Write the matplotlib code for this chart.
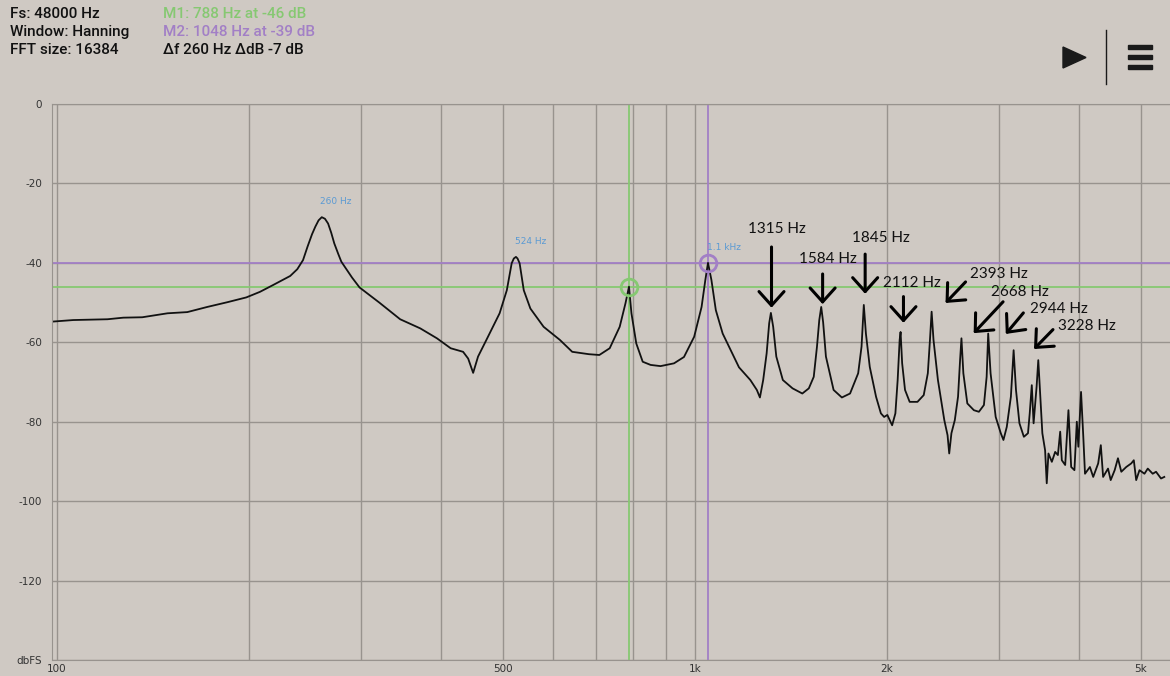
import matplotlib.pyplot as plt
import matplotlib.patches as mpatches

# spectrum (Hz, dBFS)
freq = [98.2, 106, 120, 127, 136, 149, 160, 172, 185, 198, 208, 218, 232, 238, 243, 247, 251, 254,
        257, 260, 263, 266, 269, 272, 276, 279, 290, 298, 320, 345, 371, 394, 414, 433, 441, 449, 457, 471,
        494, 507, 516, 520, 524, 527, 531, 539, 552, 579, 614, 642, 682, 708, 735, 762, 778, 788,
        795, 809, 828, 852, 883, 927, 961, 997, 1024, 1038, 1048, 1061, 1078, 1105, 1144,
        1172, 1221, 1250, 1264, 1279, 1295, 1307, 1315, 1326, 1341, 1373, 1422, 1473, 1508,
        1535, 1553, 1566, 1577, 1588, 1604, 1649, 1699, 1750, 1802, 1824, 1839, 1853, 1879,
        1922, 1956, 1979, 2002, 2037, 2061, 2078, 2093, 2100, 2112, 2134, 2170, 2232, 2283,
        2317, 2335, 2349, 2365, 2403, 2459, 2488, 2503, 2523, 2554, 2584, 2603, 2616, 2634,
        2672, 2736, 2786, 2837, 2865, 2881, 2906, 2960, 3015, 3044, 3081, 3127, 3158, 3185,
        3225, 3277, 3326, 3347, 3372, 3394, 3431, 3452, 3473, 3503, 3538, 3559, 3581, 3625,
        3669, 3705, 3736, 3758, 3804, 3849, 3887, 3933, 3967, 3989, 4028, 4061, 4086, 4159,
        4209, 4285, 4326, 4362, 4440, 4483, 4548, 4602, 4658, 4742, 4828, 4873, 4915, 4974,
        5064, 5125, 5217, 5280, 5376, 5440]
level = [-54.8, -54.4, -54.2, -53.8, -53.7, -52.7, -52.4, -51.1, -49.9, -48.7, -47.3, -45.6,
         -43.3, -41.6, -39.3, -35.9, -32.8, -30.9, -29.3, -28.5, -28.9, -30.1, -32.4, -35.1, -37.8,
         -39.7, -43.7, -46.2, -50.0, -54.2,
         -56.5, -59.0, -61.5, -62.4, -64.1, -67.7, -63.6, -59.4, -52.7, -46.9, -40.1, -38.9, -38.5,
         -38.9, -40.1, -46.9, -51.5, -56.1, -59.4, -62.4, -63.0, -63.2, -61.5, -56.1, -50.2, -46.0,
         -52.7, -60.3, -64.9, -65.7, -66.0, -65.3, -63.7, -58.6, -51.1, -44.3, -40.0, -44.3,
         -51.9, -57.8, -62.8, -66.3, -69.5, -72.0, -73.9, -69.5, -62.8, -55.2, -52.6, -56.1,
         -63.6, -69.5, -71.6, -72.9, -71.6, -68.7, -61.1, -54.4, -51.1, -55.0, -63.6, -72.0,
         -73.9, -72.9, -67.8, -61.1, -50.6, -57.8, -66.2, -73.7, -77.9, -78.8, -78.3, -80.9,
         -77.9, -69.5, -59.4, -57.4, -65.3, -72.0, -75.0, -75.0, -73.3, -67.8, -59.4, -52.3,
         -59.4, -69.5, -79.6, -83.4, -88.0, -82.9, -79.6, -73.7, -64.5, -59.0, -67.8, -75.4,
         -77.1, -77.5, -75.8, -68.7, -57.8, -67.8, -78.8, -82.9, -84.6, -81.3, -73.7, -62.0,
         -72.0, -80.4, -83.8, -82.9, -77.9, -70.8, -80.4, -71.2, -64.5, -72.0, -82.9, -87.2,
         -95.5, -88.0, -90.1, -87.6, -88.4, -82.5, -89.7, -90.9, -77.1, -91.4, -92.2, -80.0,
         -86.3, -72.5, -83.8, -93.1, -91.4, -93.9, -90.5, -85.9, -93.9, -91.8, -94.7, -92.2,
         -89.2, -92.6, -91.4, -90.5, -89.7, -94.7, -92.2, -93.1, -91.8, -93.1, -92.6, -94.3,
         -93.9]

# cursors
m1_freq, m1_level = 788, -46
m2_freq, m2_level = 1048, -40

# peaks labelled by the app
peak_freqs = [260, 524, 1048]
peak_levels = [-28.5, -38.5, -40.0]
peak_labels = ["260 Hz", "524 Hz", "1.1 kHz"]

# harmonics labelled by hand
harm_labels = ["1315 Hz", "1584 Hz", "1845 Hz", "2112 Hz", "2393 Hz", "2668 Hz", "2944 Hz", "3228 Hz"]

header_left = ["Fs: 48000 Hz", "Window: Hanning", "FFT size: 16384"]
header_right = ["M1: 788 Hz at -46 dB", "M2: 1048 Hz at -39 dB", "\u0394f 260 Hz \u0394dB -7 dB"]

xtick_vals = [100, 500, 1000, 2000, 5000]
xtick_text = ["100", "500", "1k", "2k", "5k"]
xgrid_vals = [100, 200, 300, 400, 500, 600, 700, 800, 900, 1000, 2000, 3000, 4000, 5000]
ytick_vals = [-140, -120, -100, -80, -60, -40, -20, 0]
ytick_text = ["dbFS", "-120", "-100", "-80", "-60", "-40", "-20", "0"]

# layout for the hand-drawn notes: text (f, dB), arrow tail, arrow tip
harm_text_pos = [(1342, -31.5), (1617, -39.0), (1957, -33.8), (2188, -45.1),
                 (2996, -42.9), (3226, -47.4), (3713, -51.7), (4120, -55.9)]
harm_tail = [(1318, -36.0), (1585, -42.8), (1848, -37.8), (2122, -48.5),
             (2655, -44.8), (3040, -49.8), (3271, -52.6), (3640, -56.8)]
harm_tip = [(1318, -51.3), (1585, -50.4), (1848, -47.8), (2122, -55.1),
            (2470, -50.1), (2734, -57.7), (3070, -57.9), (3399, -61.7)]

bg = "#cfc9c3"
grid_c = "#98938e"
green = "#86c872"
purple = "#a27fc6"

fig = plt.figure(figsize=(11.7, 6.76), dpi=100)
fig.patch.set_facecolor(bg)
ax = fig.add_axes([52 / 1170, 1 - 660 / 676, 1118 / 1170, 556 / 676])
ax.set_facecolor(bg)

ax.set_xscale("log")
ax.set_xlim(98.2, 5553)
ax.set_ylim(-140, 0)

ax.set_xticks(xgrid_vals, minor=True)
ax.set_xticks(xtick_vals)
ax.set_xticklabels(xtick_text)
ax.xaxis.set_minor_formatter(plt.NullFormatter())
ax.set_yticks(ytick_vals)
ax.set_yticklabels(ytick_text)
ax.tick_params(which="both", length=0, labelsize=7.5, colors="#333333")
ax.tick_params(axis="y", pad=7)
ax.tick_params(axis="x", pad=3)
ax.grid(which="both", axis="x", color=grid_c, lw=1)
ax.grid(axis="y", color=grid_c, lw=1)
ax.set_axisbelow(True)
for s in ["left", "top", "bottom"]:
    ax.spines[s].set_color(grid_c)
ax.spines["right"].set_visible(False)

# cursor lines
ax.axhline(m1_level, color=green, lw=1.3)
ax.axvline(m1_freq, color=green, lw=1.3)
ax.axhline(m2_level, color=purple, lw=1.3)
ax.axvline(m2_freq, color=purple, lw=1.3)

ax.plot(freq, level, color="#111111", lw=1.3)

ax.plot(m1_freq, m1_level, "o", ms=12, mfc="none", mec=green, mew=2)
ax.plot(m2_freq, m2_level, "o", ms=12, mfc="none", mec=purple, mew=2)

for f, l, t in zip(peak_freqs, peak_levels, peak_labels):
    ax.annotate(t, (f, l), xytext=(-1, 8), textcoords="offset points",
                ha="left", va="bottom", fontsize=6.5, color="#5b9ad3")

for t, tp, a, b in zip(harm_labels, harm_text_pos, harm_tail, harm_tip):
    ax.text(tp[0], tp[1], t, ha="center", va="center", fontsize=11,
            family="Lato", color="#111111")
    ax.annotate("", xy=b, xytext=a,
                arrowprops=dict(arrowstyle="->,head_length=0.5,head_width=0.45",
                                lw=2.2, color="black", shrinkA=0, shrinkB=0,
                                mutation_scale=20))

# header
for i, t in enumerate(header_left):
    fig.text(10 / 1170, 1 - (14 + 18 * i) / 676, t, ha="left", va="center",
             fontsize=11, family="Roboto", weight="medium", color="#111111")
for i, (t, c) in enumerate(zip(header_right, [green, purple, "#111111"])):
    fig.text(163 / 1170, 1 - (14 + 18 * i) / 676, t, ha="left", va="center",
             fontsize=11, family="Roboto", weight="medium", color=c)

# play / menu icons
W, H = 1170, 676
fig.patches.append(mpatches.Polygon([(1063 / W, 1 - 47 / H), (1063 / W, 1 - 68 / H), (1086 / W, 1 - 57.5 / H)],
                                    closed=True, color="#1a1a1a", transform=fig.transFigure))
fig.add_artist(plt.Line2D([1106 / W, 1106 / W], [1 - 30 / H, 1 - 84 / H], color="#1a1a1a", lw=1,
                          transform=fig.transFigure))
for yb in [47, 57, 67]:
    fig.patches.append(mpatches.Rectangle((1128 / W, 1 - (yb + 2) / H), 24 / W, 4 / H,
                                          color="#1a1a1a", transform=fig.transFigure))

fig.savefig("out.png", dpi=100, facecolor=bg)
